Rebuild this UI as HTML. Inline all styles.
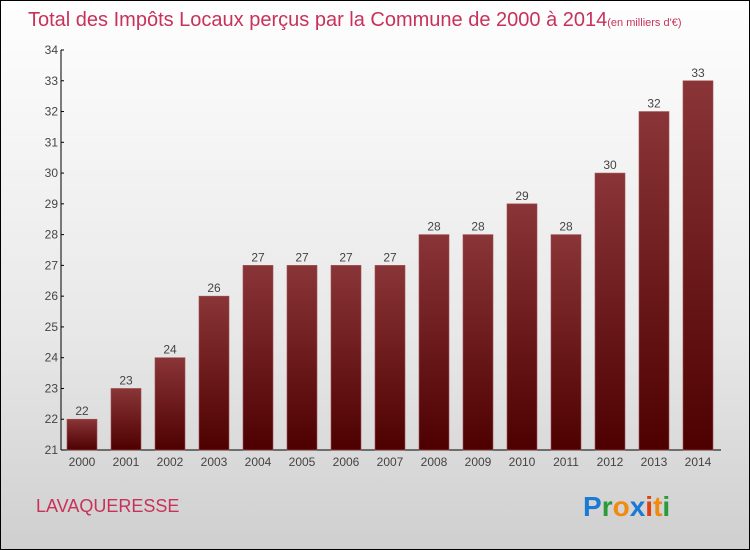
<!DOCTYPE html>
<html><head><meta charset="utf-8"><style>
html,body{margin:0;padding:0;}
body{width:750px;height:550px;overflow:hidden;font-family:"Liberation Sans",sans-serif;}
#frame{position:absolute;left:0;top:0;width:748px;height:548px;border:1px solid #000;background:linear-gradient(#fefefe,#e8e8e8 60%,#cfcfcf);}
</style></head><body>
<div id="frame"></div>
<svg id="chart" width="750" height="550" style="position:absolute;left:0;top:0">
<defs><linearGradient id="bg" x1="0" y1="0" x2="0" y2="1"><stop offset="0" stop-color="#8a3538"/><stop offset="1" stop-color="#4e0000"/></linearGradient></defs>
<text x="28" y="26" font-size="20" fill="#c8325a" font-family="'Liberation Sans',sans-serif">Total des Impôts Locaux perçus par la Commune de 2000 à 2014<tspan font-size="11">(en milliers d'€)</tspan></text>
<text x="36" y="512" font-size="18" fill="#c8325a">LAVAQUERESSE</text>
<g font-size="28" font-family="'Liberation Sans',sans-serif" font-weight="bold">
<text x="583" y="516"><tspan fill="#1a7ad4">P</tspan><tspan fill="#2a9a3a">r</tspan><tspan fill="#f08a10">o</tspan><tspan fill="#1a7ad4">x</tspan><tspan fill="#e04010">i</tspan><tspan fill="#f08a10">t</tspan><tspan fill="#2a9a3a">i</tspan></text>
</g>
<g id="axes"></g><g id="bars"></g>
</svg>
<script>
const years=["2000","2001","2002","2003","2004","2005","2006","2007","2008","2009","2010","2011","2012","2013","2014"];
const values=[22,23,24,26,27,27,27,27,28,28,29,28,30,32,33];
const yTicks=[21,22,23,24,25,26,27,28,29,30,31,32,33,34];
const NS="http://www.w3.org/2000/svg";
const yMin=21,yMax=34,plotTop=50,plotBot=450,x0=61,x1=721;
function yScale(v){return plotBot-(v-yMin)/(yMax-yMin)*(plotBot-plotTop);}
function xc(i){return 82+i*44;}
function mk(tag,attrs,parent){const e=document.createElementNS(NS,tag);for(const k in attrs)e.setAttribute(k,attrs[k]);parent.appendChild(e);return e;}
const ax=document.getElementById('axes'),bg=document.getElementById('bars');
let l=mk('line',{x1:x0,y1:plotTop,x2:x0,y2:plotBot,stroke:'#000','stroke-width':1},ax);


l=mk('line',{x1:x0,y1:plotBot,x2:x1,y2:plotBot,stroke:'#000','stroke-width':1},ax);


yTicks.forEach(t=>{
 mk('line',{x1:x0,y1:yScale(t),x2:x0+3,y2:yScale(t),stroke:'#000'},ax);
 const tx=mk('text',{x:x0-3,y:yScale(t)+4,'text-anchor':'end','font-size':12,fill:'#444'},ax);
 tx.textContent=t;
 
 
});
years.forEach((yr,i)=>{
 const v=values[i];
 const r=mk('rect',{x:xc(i)-15,y:yScale(v),width:30,height:plotBot-yScale(v),fill:'url(#bg)',stroke:'#a05050','stroke-width':0.6},bg);
 
 
 const vl=mk('text',{x:xc(i),y:yScale(v)-4,'text-anchor':'middle','font-size':12,fill:'#444'},bg);
 vl.textContent=v;
 
 
 const xl=mk('text',{x:xc(i),y:plotBot+16,'text-anchor':'middle','font-size':12,fill:'#444'},ax);
 xl.textContent=yr;
 
 
});
</script>
</body></html>
